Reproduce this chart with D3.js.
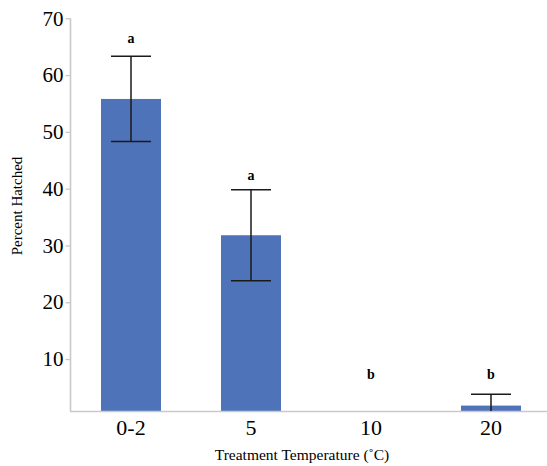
<!DOCTYPE html>
<html>
<head>
<meta charset="utf-8">
<script src="https://cdn.jsdelivr.net/npm/d3@7"></script>
<style>
  body { margin: 0; background: #fff; }
  svg text { font-family: "Liberation Serif", "Times New Roman", serif; fill: #000; }
</style>
</head>
<body>
<svg id="chart" width="547" height="466" font-family="Liberation Serif, serif"></svg>
<script>
const categories = ['0-2', '5', '10', '20'];
const means = [55.8, 31.8, 0, 1.8];
const errors = [7.5, 8.0, 0, 2.0];
const letters = ['a', 'a', 'b', 'b'];
const letterPos = [66.5, 42.4, 7.2, 7.2];
const yTicks = [10, 20, 30, 40, 50, 60, 70];

const svg = d3.select('#chart');

const yMin = 0.85;
const y = d3.scaleLinear()
  .domain([yMin, 70])
  .range([411, 18.3]);

const x = d3.scaleBand()
  .domain(categories)
  .range([71, 551])
  .paddingInner(0.5)
  .paddingOuter(0.25);

const axisColor = '#c9c9c9';
const serif = 'Liberation Serif, Times New Roman, serif';

// bars
svg.selectAll('rect.bar')
  .data(means)
  .join('rect')
  .attr('class', 'bar')
  .attr('x', (d, i) => x(categories[i]))
  .attr('width', x.bandwidth())
  .attr('y', d => y(Math.max(d, yMin)))
  .attr('height', d => y(yMin) - y(Math.max(d, yMin)) + 1)
  .attr('fill', '#4e73b9');

// y axis
let yAxis = svg.append('g')
  .attr('transform', 'translate(70.5,0)')
  .call(d3.axisLeft(y).tickValues(yTicks).tickSize(5).tickPadding(2).tickSizeOuter(0))
  .attr('font-family', serif)
  .attr('font-size', 21)
yAxis.select('.domain').attr('stroke', axisColor).attr('stroke-width', 1.6)
  .attr('d', `M0,${y(70)}V${y(yMin)}`);
yAxis.selectAll('.tick line').attr('stroke', axisColor).attr('stroke-width', 1.3);
yAxis.selectAll('.tick text').attr('fill', '#000');

// x axis
let xAxis = svg.append('g')
  .attr('transform', `translate(0,${y(yMin) + 0.5})`)
  .call(d3.axisBottom(x).tickSize(0).tickPadding(8))
  .attr('font-family', serif)
  .attr('font-size', 22)
xAxis.select('.domain').attr('stroke', axisColor).attr('stroke-width', 1.6)
  .attr('d', 'M70,0H547');
xAxis.selectAll('.tick text').attr('fill', '#000');

// error bars
const errG = svg.append('g')
  .attr('stroke', '#1a1a1a')
  .attr('stroke-width', 1.5);

means.forEach((m, i) => {
  if (errors[i] === 0) return;
  let cx = x(categories[i]) + x.bandwidth() / 2;
  let hi = m + errors[i];
  let lo = Math.max(m - errors[i], yMin);
  errG.append('line')
    .attr('x1', cx).attr('x2', cx)
    .attr('y1', y(hi)).attr('y2', y(lo));
  errG.append('line')
    .attr('x1', cx - 20).attr('x2', cx + 20)
    .attr('y1', y(hi)).attr('y2', y(hi));
  if (m - errors[i] > yMin) {
    errG.append('line')
      .attr('x1', cx - 20).attr('x2', cx + 20)
      .attr('y1', y(lo)).attr('y2', y(lo));
  }
});

// significance letters
svg.selectAll('text.letter')
  .data(letters)
  .join('text')
  .attr('class', 'letter')
  .attr('x', (d, i) => x(categories[i]) + x.bandwidth() / 2)
  .attr('y', (d, i) => y(letterPos[i]))
  .attr('text-anchor', 'middle')
  .attr('dominant-baseline', 'central')
  .style('font-size', '14px')
  .style('font-weight', 'bold')
  .text(d => d);

// axis titles
svg.append('text')
  .attr('transform', 'translate(22,206) rotate(-90)')
  .attr('text-anchor', 'middle')
  .style('font-size', '15px')
  .text('Percent Hatched');

svg.append('text')
  .attr('x', 302)
  .attr('y', 460)
  .attr('text-anchor', 'middle')
  .style('font-size', '15.5px')
  .text('Treatment Temperature (˚C)');
</script>
</body>
</html>
